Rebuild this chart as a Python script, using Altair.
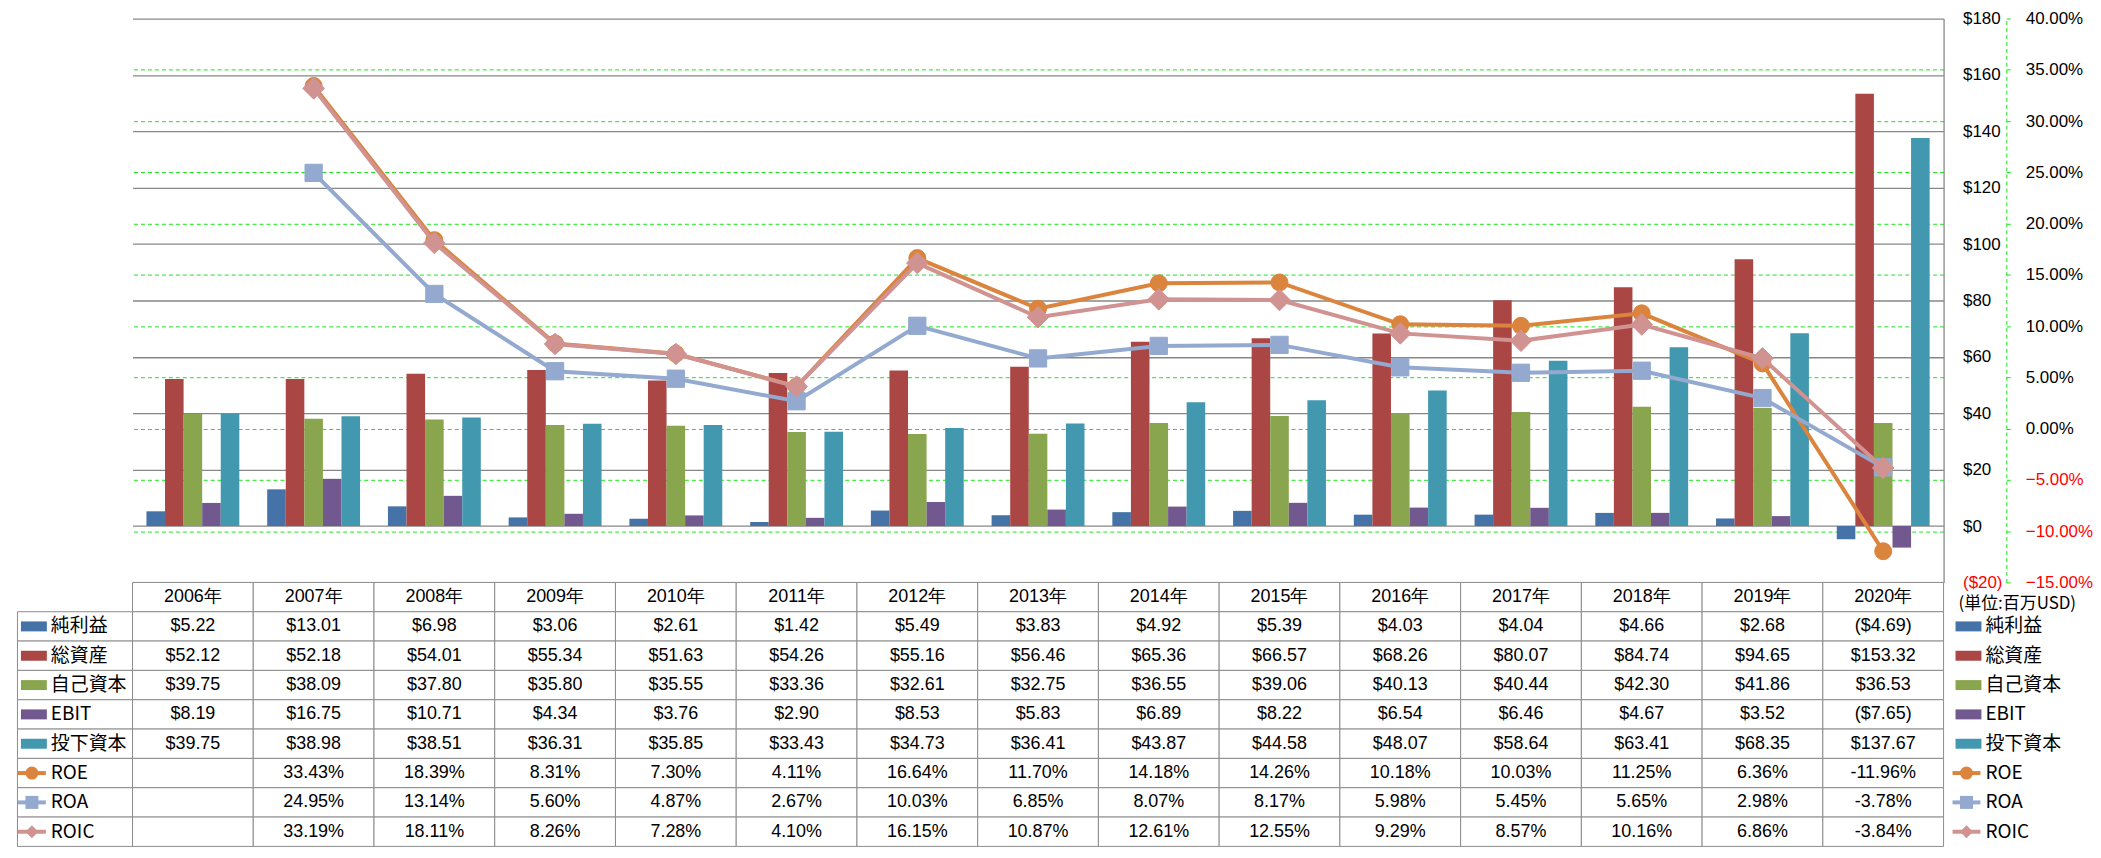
import altair as alt
import pandas as pd

# ---------------- data ----------------
years = ["2006年", "2007年", "2008年", "2009年", "2010年", "2011年", "2012年", "2013年",
         "2014年", "2015年", "2016年", "2017年", "2018年", "2019年", "2020年"]

bar_series = ["純利益", "総資産", "自己資本", "EBIT", "投下資本"]
line_series = ["ROE", "ROA", "ROIC"]

net_income = [5.22, 13.01, 6.98, 3.06, 2.61, 1.42, 5.49, 3.83, 4.92, 5.39, 4.03, 4.04, 4.66, 2.68, -4.69]
total_assets = [52.12, 52.18, 54.01, 55.34, 51.63, 54.26, 55.16, 56.46, 65.36, 66.57, 68.26, 80.07, 84.74, 94.65, 153.32]
equity = [39.75, 38.09, 37.80, 35.80, 35.55, 33.36, 32.61, 32.75, 36.55, 39.06, 40.13, 40.44, 42.30, 41.86, 36.53]
ebit = [8.19, 16.75, 10.71, 4.34, 3.76, 2.90, 8.53, 5.83, 6.89, 8.22, 6.54, 6.46, 4.67, 3.52, -7.65]
invested_capital = [39.75, 38.98, 38.51, 36.31, 35.85, 33.43, 34.73, 36.41, 43.87, 44.58, 48.07, 58.64, 63.41, 68.35, 137.67]

roe = [None, 33.43, 18.39, 8.31, 7.30, 4.11, 16.64, 11.70, 14.18, 14.26, 10.18, 10.03, 11.25, 6.36, -11.96]
roa = [None, 24.95, 13.14, 5.60, 4.87, 2.67, 10.03, 6.85, 8.07, 8.17, 5.98, 5.45, 5.65, 2.98, -3.78]
roic = [None, 33.19, 18.11, 8.26, 7.28, 4.10, 16.15, 10.87, 12.61, 12.55, 9.29, 8.57, 10.16, 6.86, -3.84]

usd_ticks = [-20, 0, 20, 40, 60, 80, 100, 120, 140, 160, 180]
pct_ticks = [-15, -10, -5, 0, 5, 10, 15, 20, 25, 30, 35, 40]
unit_note = "(単位:百万USD)"

# ---------------- styles ----------------
bar_colors = ["#4572A7", "#AA4643", "#89A54E", "#71588F", "#4198AF"]
line_colors = ["#DB843D", "#93A9CF", "#D19392"]
line_shapes = ["circle", "square", "diamond"]
line_sizes = [290, 300, 470]
GRID_GRAY = "#878787"
GREEN = "#19E619"
BORDER = "#8C8C8C"
NUM_FONT = "Liberation Sans"
JP_FONT = "Noto Sans CJK JP"

W = 1818
H_PLOT = 566
H_TABLE = 265

# ---------------- frames ----------------
bar_values = [net_income, total_assets, equity, ebit, invested_capital]
line_values = [roe, roa, roic]
all_series = bar_series + line_series
all_colors = bar_colors + line_colors

bar_df = pd.DataFrame([
    {"year": y, "series": s, "value": v}
    for s, vals in zip(bar_series, bar_values)
    for y, v in zip(years, vals)
])
line_df = pd.DataFrame([
    {"year": y, "series": s, "pct": v}
    for s, vals in zip(line_series, line_values)
    for y, v in zip(years, vals) if v is not None
])


def money(v):
    return f"(${-v:.2f})" if v < 0 else f"${v:.2f}"


def pct(v):
    return "" if v is None else f"{v:.2f}%"


row_order = ["年"] + bar_series + line_series
table_rows = []
for y in years:
    table_rows.append({"year": y, "row": "年", "text": y})
for s, vals in zip(bar_series, bar_values):
    for y, v in zip(years, vals):
        table_rows.append({"year": y, "row": s, "text": money(v)})
for s, vals in zip(line_series, line_values):
    for y, v in zip(years, vals):
        table_rows.append({"year": y, "row": s, "text": pct(v)})
table_df = pd.DataFrame(table_rows)

label_df = pd.DataFrame({"row": all_series,
                         "kind": ["bar"] * len(bar_series) + ["line"] * len(line_series)})
bar_lab = label_df[label_df.kind == "bar"]
line_lab = label_df[label_df.kind == "line"]
note_df = pd.DataFrame({"row": ["年"], "t": [unit_note]})

# ---------------- encodings ----------------
x_enc = alt.X("year:N", sort=years,
              scale=alt.Scale(type="band", domain=years, paddingInner=0, paddingOuter=0),
              axis=None)

color_all = alt.Color("row:N", scale=alt.Scale(domain=all_series, range=all_colors), legend=None)
shape_lines = alt.Shape("row:N", scale=alt.Scale(domain=line_series, range=line_shapes), legend=None)

usd_axis = alt.Axis(
    orient="right", values=usd_ticks, grid=True, gridColor=GRID_GRAY, gridWidth=1.3,
    domain=True, domainColor=GRID_GRAY, domainWidth=1.3,
    ticks=False, tickSize=0, labelPadding=19, labelAlign="left",
    labelFont=NUM_FONT, labelFontSize=17,
    labelColor=alt.condition("datum.value < 0", alt.value("#FF0000"), alt.value("#000000")),
    labelExpr="datum.value < 0 ? '($' + format(-datum.value, 'd') + ')' : '$' + format(datum.value, 'd')",
    title=None,
)
pct_axis = alt.Axis(
    orient="right", offset=63, values=pct_ticks, grid=True, gridColor=GREEN, gridDash=[4, 3],
    gridWidth=1,
    gridOpacity=alt.condition("datum.value == 40 || datum.value == -15", alt.value(0), alt.value(1)),
    domain=True, domainColor=GREEN, domainDash=[4, 3], domainWidth=1,
    ticks=True, tickColor=GREEN, tickSize=4, labelPadding=15, labelAlign="left",
    labelFont=NUM_FONT, labelFontSize=17,
    labelColor=alt.condition("datum.value < 0", alt.value("#FF0000"), alt.value("#000000")),
    labelExpr="format(datum.value, '.2f') + '%'",
    title=None,
)

bars = alt.Chart(bar_df).mark_bar().encode(
    x=x_enc,
    xOffset=alt.XOffset("series:N", sort=bar_series,
                        scale=alt.Scale(domain=bar_series, paddingInner=0, paddingOuter=0.75)),
    y=alt.Y("value:Q", scale=alt.Scale(domain=[-20, 180], nice=False, zero=False), axis=usd_axis),
    color=alt.Color("series:N", scale=alt.Scale(domain=all_series, range=all_colors), legend=None),
)

pct_scale = alt.Scale(domain=[-15, 40], nice=False, zero=False)
line_layers = []
for s, c, shp, sz in zip(line_series, line_colors, line_shapes, line_sizes):
    d = line_df[line_df.series == s]
    base = alt.Chart(d).encode(x=x_enc, y=alt.Y("pct:Q", scale=pct_scale, axis=pct_axis))
    line_layers.append(base.mark_line(color=c, strokeWidth=4))
    line_layers.append(base.mark_point(color=c, filled=True, shape=shp, size=sz, opacity=1,
                                       stroke=c, strokeWidth=1))
lines = alt.layer(*line_layers)

top = alt.layer(bars, lines).resolve_scale(y="independent").properties(width=W, height=H_PLOT)

# ---------------- table ----------------
y_tab = alt.Y("row:N", sort=row_order,
              scale=alt.Scale(type="band", domain=row_order, paddingInner=0, paddingOuter=0),
              axis=None)

cells = alt.Chart(table_df).mark_rect(fill="white", stroke=BORDER, strokeWidth=1).encode(x=x_enc, y=y_tab)
texts = alt.Chart(table_df).mark_text(font=NUM_FONT, fontSize=18, color="black").encode(
    x=x_enc, y=y_tab, text="text:N")

lab_cells = alt.Chart(label_df).mark_rect(fill="white", stroke=BORDER, strokeWidth=1).encode(
    x=alt.value(-115.5), x2=alt.value(0), y=y_tab)


def legend_block(x0):
    sw_bar = alt.Chart(bar_lab).mark_rule(strokeWidth=10).encode(
        x=alt.value(x0 + 4), x2=alt.value(x0 + 30), y=y_tab, color=color_all)
    sw_line = alt.Chart(line_lab).mark_rule(strokeWidth=4).encode(
        x=alt.value(x0 + 1), x2=alt.value(x0 + 29), y=y_tab, color=color_all)
    sw_pt = alt.Chart(line_lab).mark_point(filled=True, size=170, opacity=1).encode(
        x=alt.value(x0 + 15), y=y_tab, color=color_all, shape=shape_lines)
    txt = alt.Chart(label_df).mark_text(align="left", baseline="middle", font=JP_FONT,
                                        fontSize=19, color="black").encode(
        x=alt.value(x0 + 34), y=y_tab, text="row:N")
    return [sw_bar, sw_line, sw_pt, txt]


note = alt.Chart(note_df).mark_text(align="left", baseline="middle", font=JP_FONT, fontSize=17,
                                    dy=7, color="black").encode(
    x=alt.value(W + 15), y=y_tab, text="t:N")

table = alt.layer(
    cells, texts, lab_cells, *legend_block(-116), *legend_block(W + 8), note
).properties(width=W, height=H_TABLE)

chart = alt.vconcat(top, table, spacing=0, bounds="flush").resolve_scale(
    color="independent", shape="independent"
).properties(
    padding={"left": 8, "top": 0, "right": 0, "bottom": 0},
    background="white",
).configure_view(strokeWidth=0)

chart.save("out.html", embed_options={"renderer": "svg", "actions": False})
